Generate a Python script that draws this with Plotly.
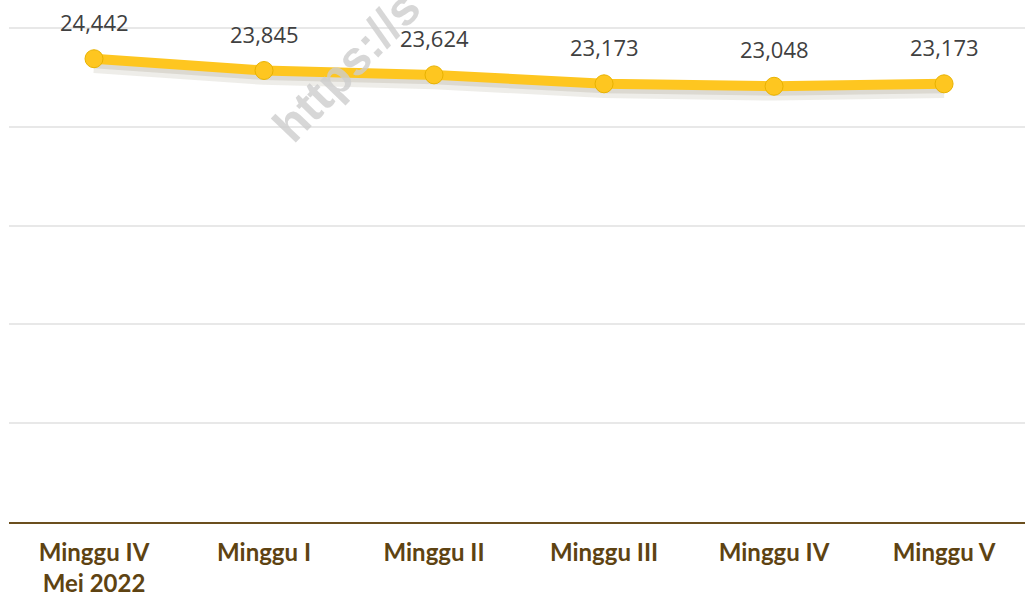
import plotly.graph_objects as go

categories = ["Minggu IV<br>Mei 2022", "Minggu I", "Minggu II", "Minggu III", "Minggu IV", "Minggu V"]
values = [24442, 23845, 23624, 23173, 23048, 23173]
value_labels = ["24,442", "23,845", "23,624", "23,173", "23,048", "23,173"]

YELLOW = "#FEC620"
BROWN = "#5E4312"

fig = go.Figure()

# soft shadow under the line
shadow_offset = 320
fig.add_trace(go.Scatter(
    x=categories, y=[v - shadow_offset for v in values], mode="lines",
    line=dict(color="rgba(90,75,40,0.10)", width=16), hoverinfo="skip", showlegend=False))
fig.add_trace(go.Scatter(
    x=categories, y=[v - shadow_offset * 0.7 for v in values], mode="lines",
    line=dict(color="rgba(90,75,40,0.12)", width=10), hoverinfo="skip", showlegend=False))

fig.add_trace(go.Scatter(
    x=categories, y=values, mode="lines+markers",
    line=dict(color=YELLOW, width=10),
    marker=dict(size=18, color=YELLOW, line=dict(color="#E8B200", width=1)),
    showlegend=False))

for c, v, t in zip(categories, values, value_labels):
    fig.add_annotation(x=c, y=v, text=t, showarrow=False, yshift=37,
                       font=dict(family="Open Sans", size=22, color="#404040"))

# watermark
fig.add_annotation(xref="paper", yref="paper", x=0.332, y=0.873, text="https://s",
                   showarrow=False, textangle=-46, xanchor="center", yanchor="middle",
                   font=dict(family="Liberation Sans", size=48, color="rgba(205,205,205,0.8)",
                             weight="bold"))

fig.update_layout(
    width=1025, height=595,
    margin=dict(l=9, r=0, t=0, b=73, autoexpand=False),
    paper_bgcolor="white", plot_bgcolor="white",
    font=dict(family="Lato"),
)
fig.update_xaxes(
    automargin=False, range=[-0.5, 5.476],
    showline=True, linecolor="#6B4F1E", linewidth=2,
    showgrid=False, ticks="outside", ticklen=8, tickcolor="rgba(0,0,0,0)",
    tickfont=dict(family="Lato", size=24, color=BROWN, weight="bold"),
)
fig.update_yaxes(
    automargin=False,
    range=[1000, 27413], tick0=1000, dtick=5000,
    showticklabels=False, showgrid=True, gridcolor="#E8E8E8", gridwidth=2,
    zeroline=False,
)

fig.write_html("out.html", config={"displayModeBar": False},
               post_script="document.body.style.margin='0';document.body.style.overflow='hidden';")
